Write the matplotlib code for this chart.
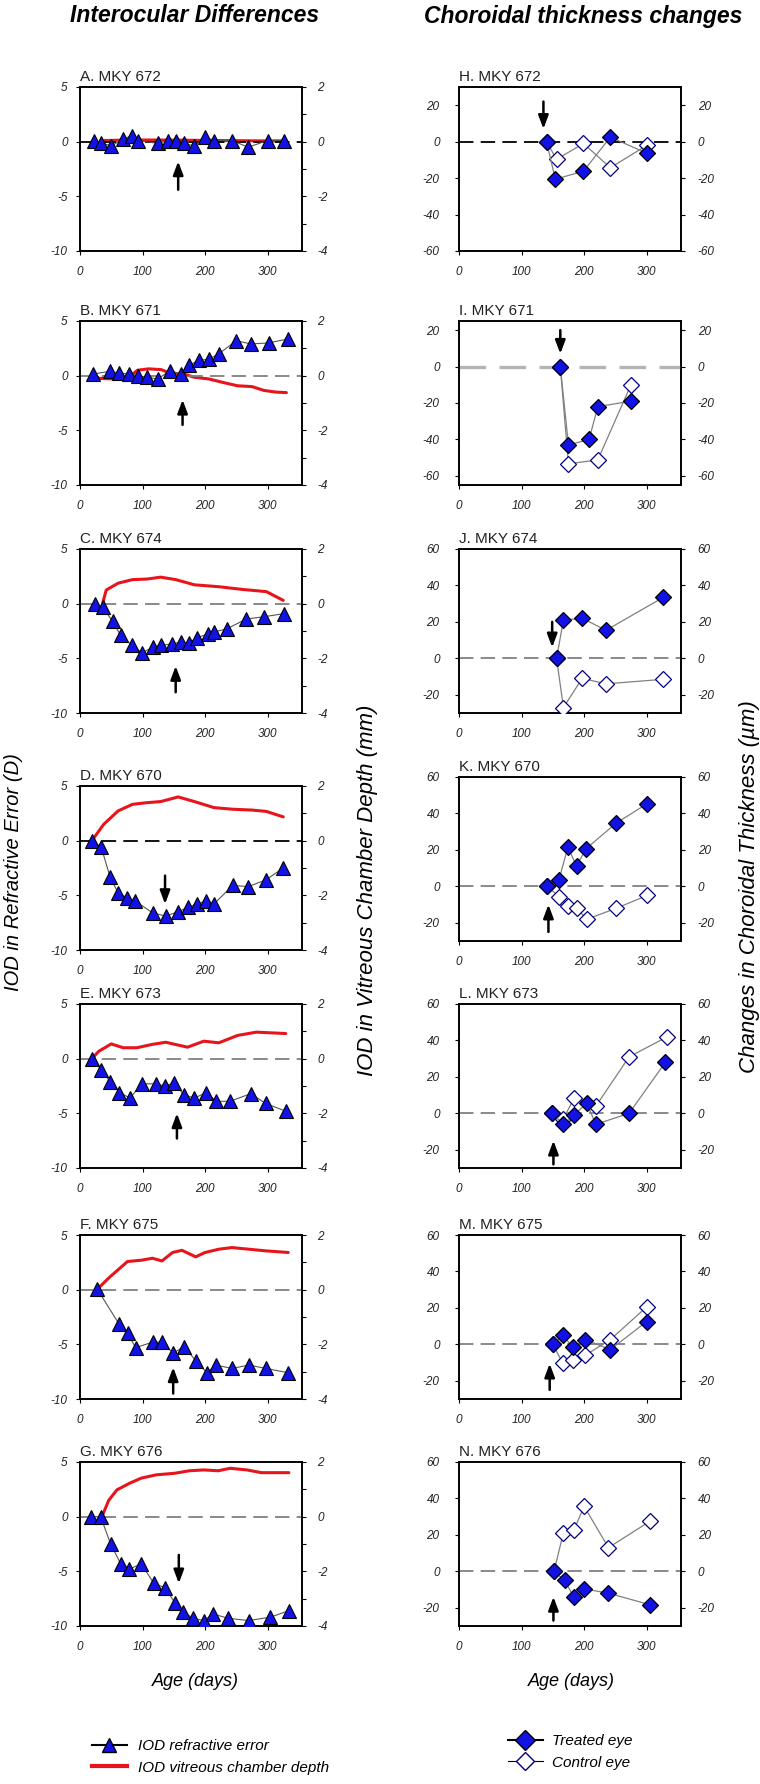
import matplotlib
matplotlib.use('Agg')
import matplotlib.pyplot as plt
from matplotlib.lines import Line2D

plt.rcParams['font.family'] = ['Liberation Sans', 'DejaVu Sans']
plt.rcParams['axes.unicode_minus'] = False

# ------------------------------------------------------------------ data
left_labels = ['A. MKY 672', 'B. MKY 671', 'C. MKY 674', 'D. MKY 670',
               'E. MKY 673', 'F. MKY 675', 'G. MKY 676']
right_labels = ['H. MKY 672', 'I. MKY 671', 'J. MKY 674', 'K. MKY 670',
                'L. MKY 673', 'M. MKY 675', 'N. MKY 676']

# interocular difference in refractive error (D)
A_re_days = [23, 34, 50, 69, 83, 93, 124, 141, 153, 166, 183, 200, 214, 243, 269, 300, 327]
A_re = [0.1, -0.1, -0.4, 0.25, 0.55, 0.1, -0.15, 0.1, 0.1, -0.15, -0.4, 0.4, 0.1, 0.1, -0.5, 0.1, 0.1]
B_re_days = [21, 48, 62, 78, 93, 107, 124, 144, 162, 174, 190, 206, 222, 250, 273, 302, 332]
B_re = [0.15, 0.4, 0.25, 0.15, 0.0, -0.15, -0.3, 0.45, 0.15, 0.95, 1.4, 1.5, 2.0, 3.2, 2.9, 3.0, 3.35]
C_re_days = [24, 36, 52, 65, 83, 99, 116, 129, 147, 161, 174, 187, 204, 214, 235, 266, 294, 327]
C_re = [0.0, -0.3, -1.6, -2.9, -3.8, -4.5, -4.0, -3.8, -3.7, -3.5, -3.6, -3.1, -2.8, -2.6, -2.3, -1.4, -1.2, -0.9]
D_re_days = [19, 34, 48, 61, 75, 88, 116, 137, 157, 172, 187, 202, 214, 244, 269, 297, 325]
D_re = [0.0, -0.6, -3.3, -4.8, -5.2, -5.5, -6.6, -6.9, -6.5, -6.1, -5.8, -5.5, -5.8, -4.1, -4.2, -3.6, -2.5]
E_re_days = [19, 34, 48, 63, 80, 99, 121, 136, 151, 166, 183, 202, 218, 240, 273, 297, 329]
E_re = [0.0, -1.0, -2.1, -3.1, -3.6, -2.3, -2.3, -2.5, -2.2, -3.3, -3.6, -3.1, -3.9, -3.9, -3.2, -4.1, -4.8]
F_re_days = [27, 62, 76, 89, 116, 131, 149, 167, 185, 203, 217, 243, 270, 297, 333]
F_re = [0.1, -3.1, -4.0, -5.3, -4.8, -4.8, -5.8, -5.2, -6.5, -7.6, -6.9, -7.2, -6.9, -7.2, -7.6]
G_re_days = [18, 33, 49, 65, 79, 98, 118, 136, 152, 165, 181, 198, 213, 237, 270, 304, 334]
G_re = [0.0, 0.0, -2.5, -4.3, -4.8, -4.3, -6.1, -6.5, -7.9, -8.7, -9.3, -9.5, -8.9, -9.3, -9.5, -9.2, -8.6]

# interocular difference in vitreous chamber depth (mm)
A_vcd_days = [34, 80, 130, 180, 230, 280, 327]
A_vcd = [0.04, 0.06, 0.06, 0.05, 0.04, 0.03, 0.03]
B_vcd_days = [22, 31, 55, 76, 92, 110, 130, 145, 168, 183, 206, 229, 252, 275, 294, 313, 330]
B_vcd = [0.0, -0.1, -0.12, -0.1, 0.2, 0.25, 0.22, 0.08, 0.05, -0.06, -0.12, -0.25, -0.37, -0.4, -0.54, -0.6, -0.62]
C_vcd_days = [36, 42, 61, 84, 107, 129, 153, 183, 222, 260, 298, 325]
C_vcd = [0.0, 0.5, 0.75, 0.88, 0.9, 0.97, 0.88, 0.69, 0.62, 0.52, 0.44, 0.12]
D_vcd_days = [19, 38, 61, 84, 107, 129, 157, 183, 214, 244, 275, 298, 325]
D_vcd = [0.0, 0.6, 1.09, 1.33, 1.39, 1.43, 1.6, 1.43, 1.21, 1.15, 1.12, 1.07, 0.87]
E_vcd_days = [19, 30, 50, 69, 91, 115, 137, 172, 198, 222, 252, 282, 329]
E_vcd = [0.0, 0.27, 0.54, 0.4, 0.4, 0.52, 0.6, 0.42, 0.64, 0.58, 0.85, 0.97, 0.92]
F_vcd_days = [27, 47, 76, 99, 116, 131, 148, 163, 185, 200, 222, 243, 270, 297, 333]
F_vcd = [0.0, 0.45, 1.03, 1.08, 1.15, 1.05, 1.36, 1.44, 1.2, 1.36, 1.48, 1.54, 1.48, 1.42, 1.36]
G_vcd_days = [35, 46, 59, 79, 98, 122, 152, 175, 198, 221, 240, 267, 290, 313, 334]
G_vcd = [0.0, 0.6, 0.98, 1.22, 1.41, 1.53, 1.59, 1.68, 1.71, 1.68, 1.77, 1.71, 1.61, 1.61, 1.61]

# treatment-onset arrows, left column (day, tail, tip) in D
left_arrow_day = [157, 164, 153, 136, 155, 149, 158]
left_arrow_tail = [-4.4, -4.5, -8.1, -3.2, -7.3, -9.5, -3.5]
left_arrow_tip = [-1.8, -2.2, -5.7, -5.8, -5.0, -7.1, -6.1]

# choroidal thickness changes (um)
H_days_t = [140, 154, 199, 242, 300]
H_treated = [0, -20.6, -16.2, 2.5, -6.3]
H_days_c = [140, 156, 199, 242, 300]
H_control = [0, -9.7, -1, -14.3, -2.1]
I_days_t = [162, 175, 208, 222, 275]
I_treated = [0, -43, -40, -22, -19]
I_days_c = [162, 175, 222, 275]
I_control = [0, -53.4, -51.2, -10]
J_days_t = [156, 167, 197, 235, 327]
J_treated = [0, 21, 22, 15.4, 33.5]
J_days_c = [156, 167, 197, 235, 327]
J_control = [0, -27, -11, -14, -11.5]
K_days_t = [141, 160, 174, 188, 203, 251, 301]
K_treated = [0, 3.7, 21.5, 11.2, 20.6, 34.6, 45.4]
K_days_c = [141, 160, 174, 189, 204, 251, 301]
K_control = [0, -5.6, -10.7, -12.1, -18.1, -12.1, -5]
L_days_t = [149, 167, 184, 204, 219, 272, 330]
L_treated = [0, -6, -1, 5.6, -6, 0, 28]
L_days_c = [149, 167, 184, 219, 272, 333]
L_control = [0, -3, 8.3, 4, 31, 42]
M_days_t = [150, 166, 182, 202, 242, 300]
M_treated = [0, 5, -1.5, 2.6, -2.9, 12.5]
M_days_c = [150, 166, 182, 202, 242, 300]
M_control = [0, -10.3, -8.5, -6, 2.6, 20.5]
N_days_t = [152, 169, 184, 200, 239, 305]
N_treated = [0, -5, -14.3, -9.6, -12, -18.3]
N_days_c = [152, 167, 184, 200, 239, 305]
N_control = [0, 21.3, 22.8, 35.7, 13, 27.4]

right_arrow_day = [135, 162, 149, 143, 151, 145, 151]
right_arrow_tail = [22, 20, 20, -25, -28, -25, -27]
right_arrow_tip = [7, 7, 6, -10, -15, -10.6, -14]

right_ylims = [(-60, 30), (-65, 25), (-30, 60), (-30, 60), (-30, 60), (-30, 60), (-30, 60)]
right_yticks = [[-60, -40, -20, 0, 20], [-60, -40, -20, 0, 20], [-20, 0, 20, 40, 60],
                [-20, 0, 20, 40, 60], [-20, 0, 20, 40, 60], [-20, 0, 20, 40, 60],
                [-20, 0, 20, 40, 60]]
x_ticks = [0, 100, 200, 300]
left_yticks = [5, 0, -5, -10]
vcd_ticks = [2, 0, -2, -4]
vcd_minor = [1, -1, -3]

# ------------------------------------------------------------------ style / layout
W, H = 760, 1784
XMAX = 355
BLUE = '#1212e6'
RED = '#e8141c'
GREY = '#808080'
left_zero_col = ['black', GREY, GREY, 'black', GREY, GREY, GREY]
right_zero_col = ['black', '#b4b4b4', GREY, GREY, GREY, GREY, GREY]
right_zero_lw = [1.3, 2.4, 1.3, 1.3, 1.3, 1.3, 1.3]
left_tops = [87, 321, 549, 786, 1004, 1235, 1462]
right_tops = [87, 321, 549, 777, 1004, 1235, 1462]
AX_W, AX_H = 222, 164
LEFT_X0, RIGHT_X0 = 80, 459

left_re = [(A_re_days, A_re), (B_re_days, B_re), (C_re_days, C_re), (D_re_days, D_re),
           (E_re_days, E_re), (F_re_days, F_re), (G_re_days, G_re)]
left_vcd = [(A_vcd_days, A_vcd), (B_vcd_days, B_vcd), (C_vcd_days, C_vcd), (D_vcd_days, D_vcd),
            (E_vcd_days, E_vcd), (F_vcd_days, F_vcd), (G_vcd_days, G_vcd)]
right_data = [(H_days_t, H_treated, H_days_c, H_control), (I_days_t, I_treated, I_days_c, I_control),
              (J_days_t, J_treated, J_days_c, J_control), (K_days_t, K_treated, K_days_c, K_control),
              (L_days_t, L_treated, L_days_c, L_control), (M_days_t, M_treated, M_days_c, M_control),
              (N_days_t, N_treated, N_days_c, N_control)]

tick_kw = dict(labelsize=8.5, labelcolor='#222222', direction='out', length=3, width=0.8)
dash = (0, (8, 4))


def rect(x0, top):
    return [x0 / W, 1 - (top + AX_H) / H, AX_W / W, AX_H / H]


def style_ticks(ax, ax2, left_pad, right_pad):
    ax.tick_params(axis='x', pad=8, **tick_kw)
    ax.tick_params(axis='y', pad=left_pad, **tick_kw)
    ax2.tick_params(axis='y', pad=right_pad, **tick_kw)
    ax2.tick_params(axis='y', which='minor', direction='out', length=3, width=0.8)
    for a in (ax, ax2):
        for lab in a.get_xticklabels() + a.get_yticklabels():
            lab.set_style('italic')
        for s in a.spines.values():
            s.set_linewidth(1.2)


def add_arrow(ax, day, tail, tip):
    ax.annotate('', xy=(day, tip), xytext=(day, tail),
                arrowprops=dict(arrowstyle='-|>,head_length=0.8,head_width=0.3',
                                color='black', lw=1.8, shrinkA=0, shrinkB=0),
                zorder=6)


fig = plt.figure(figsize=(W / 100, H / 100), dpi=100)

# left column
for i in range(7):
    ax = fig.add_axes(rect(LEFT_X0, left_tops[i]))
    ax2 = ax.twinx()
    ax.set_zorder(ax2.get_zorder() + 1)
    ax.patch.set_visible(False)
    ax.set_xlim(0, XMAX)
    ax.set_ylim(-10, 5)
    ax2.set_ylim(-4, 2)
    ax.set_xticks(x_ticks)
    ax.set_yticks(left_yticks)
    ax2.set_yticks(vcd_ticks)
    ax2.set_yticks(vcd_minor, minor=True)
    ax.axhline(0, color=left_zero_col[i], lw=1.3, ls=dash, zorder=1)
    vd, vv = left_vcd[i]
    ax2.plot(vd, vv, color=RED, lw=2.2, solid_capstyle='round')
    rd, rv = left_re[i]
    ax.plot(rd, rv, color='#555555', lw=0.8, marker='^', ms=10, mfc=BLUE,
            mec='black', mew=0.8, zorder=4)
    add_arrow(ax, left_arrow_day[i], left_arrow_tail[i], left_arrow_tip[i])
    ax.set_title(left_labels[i], loc='left', pad=4, fontsize=11, color='#222222')
    style_ticks(ax, ax2, 6, 8)

# right column
for i in range(7):
    ax = fig.add_axes(rect(RIGHT_X0, right_tops[i]))
    ax2 = ax.twinx()
    ax.set_zorder(ax2.get_zorder() + 1)
    ax.patch.set_visible(False)
    ax.set_xlim(0, XMAX)
    ax.set_ylim(*right_ylims[i])
    ax2.set_ylim(*right_ylims[i])
    ax.set_xticks(x_ticks)
    ax.set_yticks(right_yticks[i])
    ax2.set_yticks(right_yticks[i])
    ax.axhline(0, color=right_zero_col[i], lw=right_zero_lw[i], ls=dash, zorder=1)
    dt, tv, dc, cv = right_data[i]
    ax.plot(dc, cv, color=GREY, lw=0.9, marker='D', ms=8, mfc='white',
            mec='#000080', mew=0.9, zorder=3)
    ax.plot(dt, tv, color=GREY, lw=0.9, marker='D', ms=8, mfc=BLUE,
            mec='black', mew=0.9, zorder=4)
    add_arrow(ax, right_arrow_day[i], right_arrow_tail[i], right_arrow_tip[i])
    ax.set_title(right_labels[i], loc='left', pad=4, fontsize=11, color='#222222')
    style_ticks(ax, ax2, 11, 9)

# titles and axis labels
fig.text(195 / W, 1 - 16 / H, 'Interocular Differences', ha='center', va='center',
         fontsize=16.5, weight='bold', style='italic')
fig.text(583 / W, 1 - 16 / H, 'Choroidal thickness changes', ha='center', va='center',
         fontsize=16.5, weight='bold', style='italic')
fig.text(14 / W, 1 - 872 / H, 'IOD in Refractive Error (D)', rotation=90,
         ha='center', va='center', fontsize=14.5, style='italic')
fig.text(367 / W, 1 - 890 / H, 'IOD in Vitreous Chamber Depth (mm)', rotation=90,
         ha='center', va='center', fontsize=16, style='italic')
fig.text(749 / W, 1 - 887 / H, 'Changes in Choroidal Thickness (\u00b5m)', rotation=90,
         ha='center', va='center', fontsize=16, style='italic')
fig.text(195 / W, 1 - 1682 / H, 'Age (days)', ha='center', va='center',
         fontsize=13, style='italic')
fig.text(571 / W, 1 - 1682 / H, 'Age (days)', ha='center', va='center',
         fontsize=13, style='italic')

# legends
h_re = Line2D([], [], color='black', lw=1.5, marker='^', ms=10, mfc=BLUE, mec='black')
h_vcd = Line2D([], [], color=RED, lw=3)
fig.legend([h_re, h_vcd], ['IOD refractive error', 'IOD vitreous chamber depth'],
           loc='center left', bbox_to_anchor=(78 / W, 1 - 1757 / H), frameon=False,
           handlelength=2.3, handletextpad=0.7, labelspacing=0.5,
           prop=dict(size=11, style='italic'))
h_t = Line2D([], [], color='black', lw=1.5, marker='D', ms=10, mfc=BLUE, mec='black')
h_c = Line2D([], [], color='black', lw=0.8, marker='D', ms=9, mfc='white', mec='#000080')
fig.legend([h_t, h_c], ['Treated eye', 'Control eye'],
           loc='center left', bbox_to_anchor=(494 / W, 1 - 1752 / H), frameon=False,
           handlelength=2.3, handletextpad=0.6, labelspacing=0.5,
           prop=dict(size=11, style='italic'))

fig.savefig('out.png', dpi=100)
